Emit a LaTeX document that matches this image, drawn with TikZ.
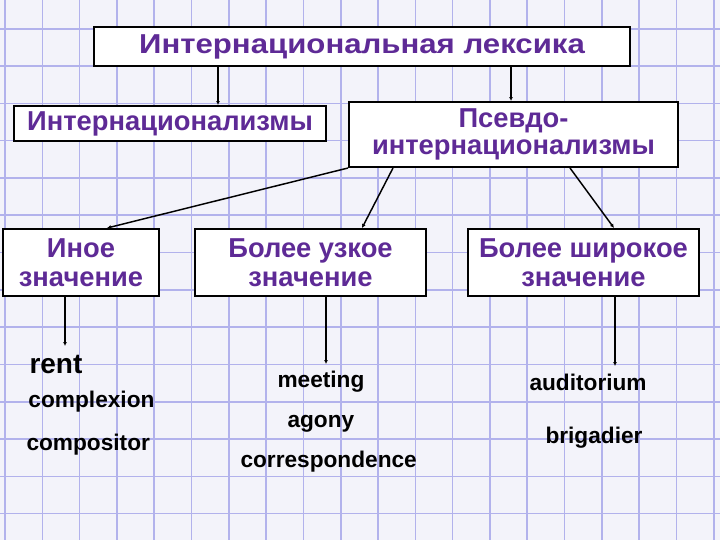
\documentclass[tikz,border=0pt]{standalone}
\usepackage{fontspec}
\setmainfont{Liberation Sans}
\usetikzlibrary{arrows.meta}

\definecolor{paper}{RGB}{243,243,250}
\definecolor{gridblue}{RGB}{178,178,236}
\definecolor{termviolet}{RGB}{94,42,150}

\tikzset{every picture/.style={line width=0.75pt}}
\tikzset{
  termbox/.style={draw=black, line width=1.5pt, fill=white, text=termviolet, align=center,
    inner sep=0pt, font=\bfseries\fontsize{20.5}{22}\selectfont},
  wordnode/.style={anchor=base west, inner sep=0pt, text=black, font=\bfseries\fontsize{17}{20}\selectfont},
  link/.style={line width=1.1pt, -{Latex[length=3pt,width=3pt]}},
  gridline/.style={draw=gridblue, line width=1.2pt}
}

\begin{document}
\begin{tikzpicture}[x=0.75pt,y=0.75pt,yscale=-1,xscale=1]
\useasboundingbox (0,0) rectangle (720,540);

%Shape: squared paper
\fill[paper] (0,0) rectangle (720,540);
\foreach \k in {0,...,19} \draw[gridline] (5+37.3*\k,0) -- (5+37.3*\k,540);
\foreach \k in {0,...,14} \draw[gridline] (0,28.7+37.3*\k) -- (720,28.7+37.3*\k);

% Boxes (sizes in pt = px*0.75)
\node[termbox, minimum width=402pt, minimum height=29.25pt] (lex) at (362,46.5) {\scalebox{1.14}[1]{Интернациональная лексика}};
\node[termbox, minimum width=234pt, minimum height=26.25pt] (intl) at (170,123.5) {Интернационализмы};
\node[termbox, minimum width=246.75pt, minimum height=48.75pt] (pseudo) at (513.5,134.5) {\raisebox{-3pt}{Псевдо-}\\[1pt]интернационализмы};
\node[termbox, minimum width=117pt, minimum height=50.25pt] (other) at (81,262.5) {Иное\\значение};
\node[termbox, minimum width=173.25pt, minimum height=50.25pt] (narrow) at (310.5,262.5) {Более узкое\\значение};
\node[termbox, minimum width=173.25pt, minimum height=50.25pt] (wide) at (583.5,262.5) {Более широкое\\значение};

% Text Node
\node[wordnode, font=\bfseries\fontsize{21}{24}\selectfont] (rent) at (29,373) {rent};
\node[wordnode] (complexion) at (28,407) {complexion};
\node[wordnode] (compositor) at (26,450) {compositor};
\node[wordnode] (meeting) at (277,387) {meeting};
\node[wordnode] (agony) at (287,427) {agony};
\node[wordnode] (correspondence) at (240,467) {correspondence};
\node[wordnode] (auditorium) at (529,390) {auditorium};
\node[wordnode] (brigadier) at (545,443) {brigadier};

% arrow ends above the words
\coordinate (otherTip) at (65,346);
\coordinate (narrowTip) at (326,364);
\coordinate (wideTip) at (615,366);

% Connectors
\draw[link] (lex.south -| 218,0) -- (intl.north -| 218,0);
\draw[link] (lex.south -| 511,0) -- (pseudo.north -| 511,0);
\draw[link] (pseudo.south west) -- (other.north -| 107,0);
\draw[link] (pseudo.south -| 393,0) -- (narrow.north -| 362,0);
\draw[link] (pseudo.south -| 570,0) -- (wide.north -| 614,0);
\draw[link] (other.south -| otherTip) -- (otherTip);
\draw[link] (narrow.south -| narrowTip) -- (narrowTip);
\draw[link] (wide.south -| wideTip) -- (wideTip);
\end{tikzpicture}
\end{document}
